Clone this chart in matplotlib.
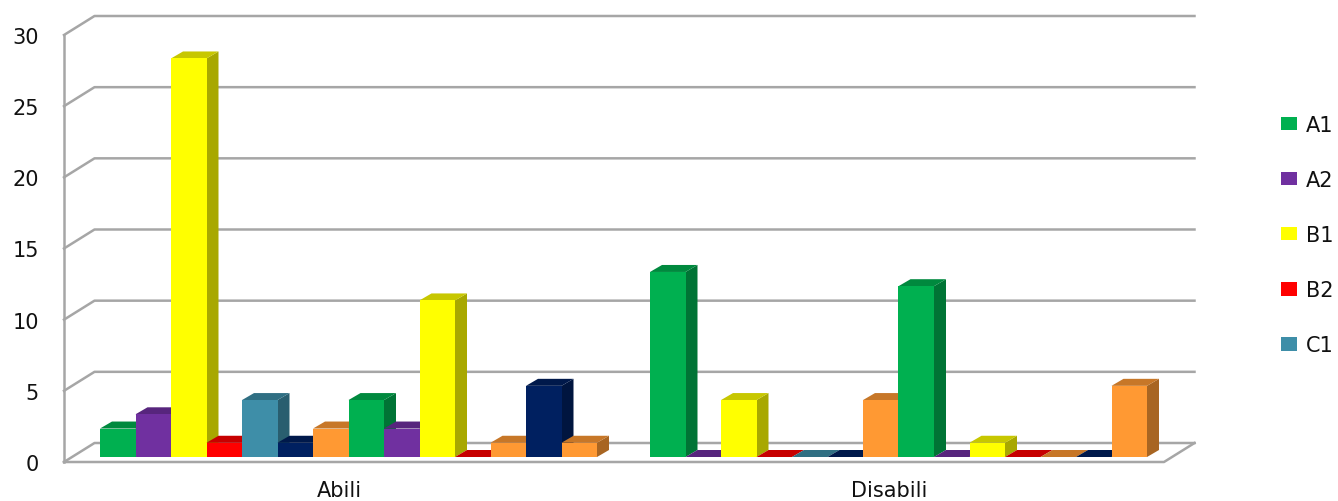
import matplotlib
matplotlib.use("Agg")
import matplotlib.pyplot as plt
from matplotlib.patches import Polygon, Patch
import numpy as np

plt.rcParams['font.family'] = ['DejaVu Sans']

categories = ["Abili", "Disabili"]
abili_values = [2, 3, 28, 1, 4, 1, 2, 4, 2, 11, 0, 1, 5, 1]
disabili_values = [13, 0, 4, 0, 0, 0, 4, 12, 0, 1, 0, 0, 0, 5]
series_colors = ["#00B050", "#7030A0", "#FFFF00", "#FF0000", "#3E8EA8", "#002060", "#FF9933",
                 "#00B050", "#7030A0", "#FFFF00", "#FF0000", "#FF9933", "#002060", "#FF9933"]
legend_labels = ["A1", "A2", "B1", "B2", "C1"]
y_ticks = [0, 5, 10, 15, 20, 25, 30]

W, H = 1338, 502
L, R, T, B = 64, 1164, 36, 463
fig = plt.figure(figsize=(W / 100, H / 100), dpi=100, facecolor="white")
ax = fig.add_axes([L / W, 1 - B / H, (R - L) / W, (B - T) / H])
ax.set_xlim(0, 2)
ax.set_ylim(0, 30)
for s in ax.spines.values():
    s.set_visible(False)

px = 2 / (R - L)          # data units per pixel, x
py = 30 / (B - T)         # data units per pixel, y
wall_dx, wall_dy = 30.5 * px, 19 * py     # depth of the chart box
bar_dx, bar_dy = 12 * px, 7 * py          # depth of one bar
base_dy = 5 * py                          # bar front base above the floor front
bar_w = 35.5 * px
group_shift = 9.5 * px

grid_c = "#A6A6A6"
line_kw = dict(color=grid_c, lw=1.8, clip_on=False, solid_capstyle="projecting", zorder=1)

# walls and floor
for v in y_ticks:
    ax.plot([0, wall_dx, 2 + wall_dx], [v, v + wall_dy, v + wall_dy], **line_kw)
ax.plot([0, 0], [0, 30], **line_kw)
ax.plot([0, 2, 2 + wall_dx], [0, 0, wall_dy], **line_kw)


def shade(color, f):
    return tuple(c * f for c in matplotlib.colors.to_rgb(color))


z = 2
for i, vals in enumerate([abili_values, disabili_values]):
    n = len(vals)
    x0 = i + 0.5 + group_shift - n * bar_w / 2
    for j, v in enumerate(vals):
        c = series_colors[j]
        left = x0 + j * bar_w
        right = left + bar_w
        y0 = base_dy
        y1 = base_dy + v
        # side
        if v > 0:
            ax.add_patch(Polygon([(right, y0), (right + bar_dx, y0 + bar_dy),
                                  (right + bar_dx, y1 + bar_dy), (right, y1)],
                                 closed=True, fc=shade(c, 0.66), ec="none", zorder=z, clip_on=False))
        # top
        ax.add_patch(Polygon([(left, y1), (left + bar_dx, y1 + bar_dy),
                              (right + bar_dx, y1 + bar_dy), (right, y1)],
                             closed=True, fc=shade(c, 0.78), ec="none", zorder=z, clip_on=False))
        # front
        if v > 0:
            ax.bar(left, v, width=bar_w, bottom=y0, align="edge", color=c, linewidth=0,
                   zorder=z + 0.5, clip_on=False)
        z += 1

ax.set_yticks(y_ticks)
ax.set_yticklabels([str(v) for v in y_ticks], fontsize=15, color="#111111")
ax.set_xticks([0.5, 1.5])
ax.set_xticklabels(categories, fontsize=15, color="#111111")
ax.tick_params(axis="both", length=0)
ax.tick_params(axis="y", pad=18)
ax.tick_params(axis="x", pad=13)

handles = [Patch(fc=series_colors[k], ec="none", label=lab) for k, lab in enumerate(legend_labels)]
fig.legend(handles=handles, loc="center left", bbox_to_anchor=(1281 / W, 1 - 236 / H),
           frameon=False, fontsize=15, handlelength=0.77, handleheight=0.62,
           handletextpad=0.42, labelspacing=1.69, labelcolor="#111111",
           borderpad=0, borderaxespad=0)

fig.savefig("out.png", dpi=100, facecolor="white")
